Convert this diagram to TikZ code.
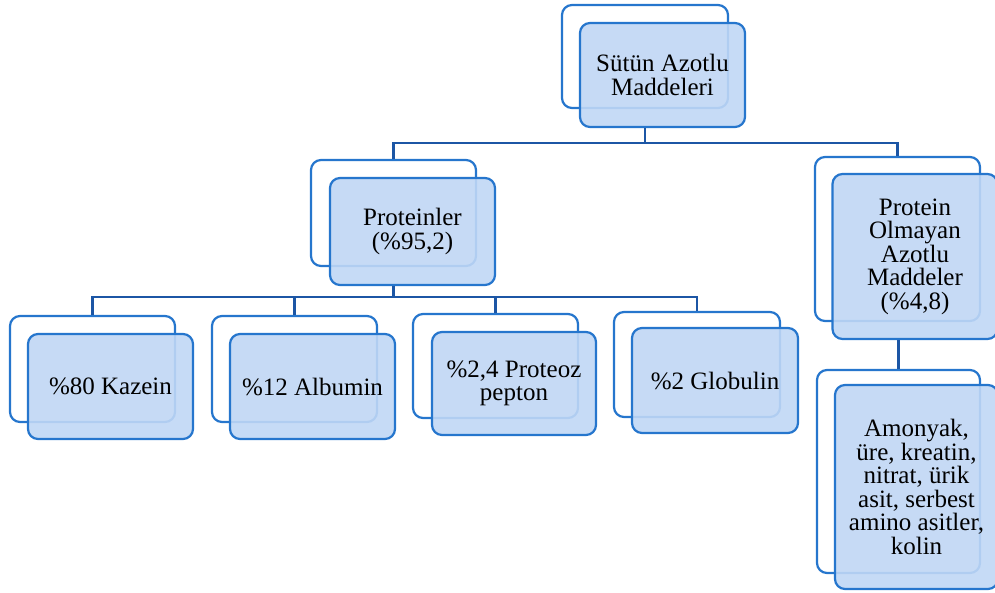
\documentclass[tikz,border=0pt]{standalone}
\usepackage{fontspec}
\setmainfont{Liberation Serif}
\usetikzlibrary{positioning}
\definecolor{boxblue}{RGB}{38,118,205}
\definecolor{lineblue}{RGB}{28,86,165}
\definecolor{fillblue}{RGB}{192,215,245}
\begin{document}
\begin{tikzpicture}[x=1pt, y=-1pt,
            bk/.style={draw=boxblue, line width=2.2pt, rounded corners=10pt, fill=white, inner sep=0pt},
            fr/.style={draw=boxblue, line width=2.2pt, rounded corners=10pt, fill=fillblue, fill opacity=0.9, text opacity=1,
                       inner sep=2pt, align=center, font=\fontsize{25}{23.5}\selectfont},
            sz/.style 2 args={minimum width=#1, minimum height=#2},
            conn/.style={draw=lineblue, line width=2.2pt}]
            \useasboundingbox (0,0) rectangle (995,592);
            % back boxes
            \node[bk, sz={166pt}{103pt}] (rootB) at (645,56.5)  {};
            \node[bk, sz={165pt}{106pt}] (protB) at (393.5,213) {};
            \node[bk, sz={165pt}{164pt}] (poB)   at (897.5,239) {};
            \node[bk, sz={163pt}{203pt}] (amB)   at (898.5,471.5) {};
            \node[bk, sz={165pt}{106pt}] (kazB)  at (92.5,369)  {};
            \node[bk, sz={165pt}{106pt}] (albB)  at (294.5,369) {};
            \node[bk, sz={165pt}{104pt}] (przB)  at (495.5,366) {};
            \node[bk, sz={166pt}{105pt}] (glbB)  at (697,364.5) {};
            % front boxes
            \node[fr, sz={165pt}{104pt}] (root) at (662.5,75)  {Sütün Azotlu\\Maddeleri};
            \node[fr, sz={165pt}{107pt}] (prot) at (412.5,231.5) {Proteinler\\(\%95,2)};
            \node[fr, sz={165pt}{165pt}] (po)   at (915,256.5) {Protein\\Olmayan\\Azotlu\\Maddeler\\(\%4,8)};
            \node[fr, sz={163pt}{204pt}] (am)   at (916.5,487) {Amonyak,\\üre, kreatin,\\nitrat, ürik\\asit, serbest\\amino asitler,\\kolin};
            \node[fr, sz={165pt}{105pt}] (kaz)  at (110.5,386.5) {\%80 Kazein};
            \node[fr, sz={165pt}{105pt}] (alb)  at (312.5,386.5) {\%12 Albumin};
            \node[fr, sz={164pt}{103pt}] (prz)  at (514,383.5) {\%2,4 Proteoz\\pepton};
            \node[fr, sz={166pt}{105pt}] (glb)  at (715,380.5) {\%2 Globulin};
            % connectors
            \coordinate (bus1) at (0,143);
            \coordinate (bus2) at (0,297);
            \draw[conn] (rootB.south |- root.south) |- (protB |- bus1) -- (protB.north);
            \draw[conn] (rootB.south |- root.south) |- (poB |- bus1) -- (poB.north);
            \draw[conn] (amB.north |- po.south) -- (amB.north);
            \foreach \n in {kazB,albB,przB,glbB}
                \draw[conn] (protB.south |- prot.south) |- (\n |- bus2) -- (\n.north);
\end{tikzpicture}
\end{document}
